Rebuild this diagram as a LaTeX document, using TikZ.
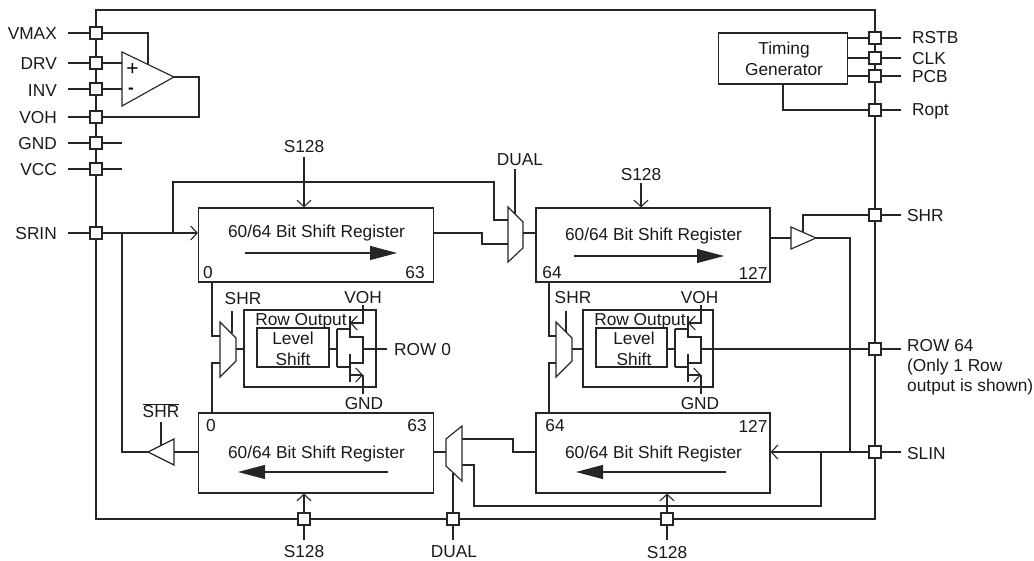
\documentclass[tikz,border=0pt]{standalone}
\usepackage{fontspec}
\setmainfont{Liberation Sans}
\usetikzlibrary{arrows.meta,calc}
\pgfdeclarelayer{wires}
\pgfsetlayers{wires,main}
\tikzset{
  x=1pt,y=-1pt,
  lw/.style={line width=1.15pt,draw=black!85},
  wire/.style={lw,line join=miter},
  barb/.style={-{Straight Barb[length=6.5pt,width=14pt,line width=1.1pt]}},
  bigarrow/.style={-{Triangle[length=27pt,width=14pt]}},
  pad/.style={lw,fill=white,rectangle,minimum size=12pt,inner sep=0pt},
  box/.style={lw,rectangle,inner sep=0pt,fill=none},
  lbl/.style={font=\fontsize{17.3}{19}\selectfont,inner sep=0pt,text=black!90,yshift=-1pt},
  lblL/.style={lbl,anchor=west},
  lblR/.style={lbl,anchor=east},
  gate/.style={lw,fill=white,line join=miter},
}
% #1 name prefix, #2 x offset
\newcommand{\rowfets}[2]{
  \coordinate (#1g1) at (337+#2,329);
  \coordinate (#1g2) at (337+#2,367);
  \coordinate (#1gm) at (337+#2,349);
  \coordinate (#1d1) at (363+#2,337);
  \coordinate (#1d2) at (363+#2,363);
  \coordinate (#1out) at (363+#2,349);
  \coordinate (#1vt) at (363+#2,305);
  \coordinate (#1vb) at (363+#2,323);
  \coordinate (#1ct) at (350+#2,316);
  \coordinate (#1cm) at (350+#2,337);
  \coordinate (#1cn) at (350+#2,363);
  \coordinate (#1cb) at (350+#2,382);
  \coordinate (#1gt) at (363+#2,394);
  \coordinate (#1gb) at (363+#2,375);
  \draw[wire] (#1g1) -- (#1g2);
  \draw[wire] (#1g1) -- (#1g1 -| #1ct);
  \draw[wire] (#1g2) -- (#1g2 -| #1ct);
  \draw[wire] (#1ct) -- (#1cm) -- (#1d1) -- (#1d2) -- (#1cn);
  \draw[wire] (#1cn |- 0,354) -- (#1cb);
  \draw[wire,barb] (#1vt) -- (#1vb) -- (#1vb -| #1ct);
  \draw[wire] (#1gt) -- (#1gb);
  \draw[wire,barb] (#1gb -| #1ct) -- (#1gb);
}
\begin{document}
\begin{tikzpicture}
\useasboundingbox (0,0) rectangle (1034,561);

% ---- pads
\foreach \n/\x/\y in {vmax/96/33,drv/96/63,inv/96/89,voh/96/117,gnd/96/143,vcc/96/169,srin/96/233,
  rstb/875/38,clk/875/58,pcb/875/76,ropt/875/110,shr/875/215,row/875/349,slin/875/452,
  sa/304/519,dual/453/519,sb/667/519}
  \node[pad] (p\n) at (\x,\y) {};

% ---- corners of the outer frame
\coordinate (fTL) at (96,10);
\coordinate (fTR) at (875,10);
\coordinate (fBL) at (96,519);
\coordinate (fBR) at (875,519);

% ---- blocks
\node[box,minimum width=129pt,minimum height=51pt] (tg) at (783,58.5) {};
\node[lbl,align=center] (tgt) at (784,60) {\strut Timing\\[2pt]\strut Generator};
\node[box,minimum width=235pt,minimum height=74pt] (rTL) at (316,245) {};
\node[box,minimum width=234pt,minimum height=74pt] (rTR) at (653,245) {};
\node[box,minimum width=235pt,minimum height=80pt] (rBL) at (316,453) {};
\node[box,minimum width=234pt,minimum height=80pt] (rBR) at (653,453) {};
\node[box,minimum width=132pt,minimum height=77pt] (roA) at (310,348.5) {};
\node[box,minimum width=130pt,minimum height=77pt] (roB) at (648,348.5) {};
\node[box,minimum width=72pt,minimum height=39pt] (lsA) at (293,347.5) {};
\node[box,minimum width=71pt,minimum height=39pt] (lsB) at (631.5,347.5) {};

% ---- gate geometry
\draw[gate] (122,52) coordinate (oa1) -- (122,106) coordinate (oa2) -- (174,77) coordinate (oaO) -- cycle;
\draw[gate] (791,227) -- (791,249) -- (816,238) coordinate (bufRo) -- cycle;
\draw[gate] (174,439) -- (174,465) -- (148,452) coordinate (bufLo) -- cycle;
\draw[gate] (508,207) -- (523,222) -- (523,248) -- (508,262) -- cycle;
\draw[gate] (220,322) -- (236,338) -- (236,361) -- (220,377) -- cycle;
\draw[gate] (556,322) -- (572,338) -- (572,361) -- (556,377) -- cycle;
\draw[gate] (462,426) -- (446,439) -- (446,466) -- (462,481) -- cycle;

\node[font=\fontsize{21}{21}\selectfont,inner sep=0pt] (plus) at (132.5,69.5) {+};
\node[font=\fontsize{17}{17}\selectfont\bfseries,inner sep=0pt] (minus) at (131,90.5) {-};

% ---- register texts
\foreach \n/\x/\y in {tA/316.5/232,tB/653.5/235,tC/316.5/453,tD/653.5/453}
  \node[lbl] (\n) at (\x,\y) {60/64 Bit Shift Register};
\foreach \n/\x/\y/\t in {iA/208/272/0,iB/415/272/63,iC/552/272/64,iD/753/272/127,
  iE/211/425/0,iF/417/425/63,iG/555/425/64,iH/753/425/127}
  \node[lbl] (\n) at (\x,\y) {\t};

% ---- big arrows in registers
\coordinate (aA0) at (245,253); \coordinate (aA1) at (397,253);
\coordinate (aB0) at (574,256); \coordinate (aB1) at (724,256);
\coordinate (aC0) at (388,472); \coordinate (aC1) at (238,472);
\coordinate (aD0) at (726,472); \coordinate (aD1) at (576,472);
\draw[wire,bigarrow] (aA0) -- (aA1);
\draw[wire,bigarrow] (aB0) -- (aB1);
\draw[wire,bigarrow] (aC0) -- (aC1);
\draw[wire,bigarrow] (aD0) -- (aD1);

% ---- row output fets
\rowfets{fa}{0}
\rowfets{fb}{338}

% ---- other labels
\foreach \n/\x/\y/\t in {lVMAX/57/33/VMAX,lDRV/57/63/DRV,lINV/57/90/INV,lVOH/57/117/VOH,
  lGND/57/143/GND,lVCC/57/169/VCC,lSRIN/57/233/SRIN}
  \node[lblR] (\n) at (\x,\y) {\t};
\foreach \n/\x/\y/\t in {lRSTB/912/37/RSTB,lCLK/912/58/CLK,lPCB/912/76/PCB,lRopt/912/110/Ropt,
  lSHR/907/215/SHR,lROW/907/345/ROW 64,lR2/907/366/(Only 1 Row,lR3/907/386.5/output is shown),lSLIN/907/453/SLIN,lROW0/394/349/ROW 0}
  \node[lblL] (\n) at (\x,\y) {\t};
\foreach \n/\x/\y/\t in {lS1/304/146/S128,lS2/641/174/S128,lS3/304/551/S128,lS4/667/551.5/S128,
  lD1/520/159/DUAL,lD2/454/551/DUAL,
  lSa/243/298/SHR,lVa/363/297/VOH,lGa/364/403/GND,
  lSb/573/297/SHR,lVb/699.5/297/VOH,lGb/700/403/GND,
  lLa/293/337/Level,lSha/293/358/Shift,lLb/634/337/Level,lShb/634/358/Shift,
  lOa/301/320/Row Output,lOb/640/320/Row Output}
  \node[lbl] (\n) at (\x,\y) {\t};
\node[lbl] (lNS) at (161,410) {$\overline{\mbox{SHR}}$};

% ---- connectors (under the nodes)
\begin{pgfonlayer}{wires}
\draw[wire] (fTL) -- (fTR) -- (fBR) -- (fBL) -- cycle;
% stubs
\foreach \n/\e in {vmax,drv,inv,voh,gnd,vcc,srin}
  \draw[wire] (p\n.center) -- ++(-28,0);
\draw[wire] (pgnd.center) -- ++(26,0);
\draw[wire] (pvcc.center) -- ++(26,0);
\foreach \n in {rstb,clk,pcb,ropt,shr,row,slin}
  \draw[wire] (p\n.center) -- ++(26,0);
\foreach \n in {sa,dual,sb}
  \draw[wire] (p\n.center) -- ++(0,21);
% op amp
\draw[wire] (pvmax.center) -- (148,33) -- (148,64);
\draw[wire] (pdrv.center) -- (pdrv -| oa1);
\draw[wire] (pinv.center) -- (pinv -| oa1);
\draw[wire] (oaO) -- (199,77) -- (199,117) -- (pvoh.center);
% timing generator
\draw[wire] (prstb.center) -- (prstb -| tg.east);
\draw[wire] (pclk.center) -- (pclk -| tg.east);
\draw[wire] (ppcb.center) -- (ppcb -| tg.east);
\draw[wire] (tg.south) |- (propt.center);
% serial in
\draw[wire,barb] (psrin.center) -- (rTL.west |- psrin);
\draw[wire] (173,233) |- (494,182) |- (508,220);
\draw[wire] (rTL.east |- 0,233) -- (482,233) -- (482,244) -- (508,244);
\draw[wire] (523,233) -- (rTR.west |- 0,233);
\draw[wire] (515,169) -- (515,215);
% S128 arrows
\draw[wire,barb] (304,157) -- (rTL.north -| 304,0);
\draw[wire,barb] (641,183) -- (rTR.north -| 641,0);
\draw[wire,barb] (psa.center) -- (rBL.south -| psa);
\draw[wire,barb] (psb.center) -- (rBR.south -| psb);
% right buffer
\draw[wire] (rTR.east |- bufRo) -- (791,238);
\draw[wire] (bufRo) -- (850,238) -- (850,452);
\draw[wire] (803,233) |- (pshr.center);
% slin
\draw[wire,barb] (pslin.center) -- (rBR.east |- pslin);
\draw[wire] (821,452) -- (821,506) -- (474,506) -- (474,465) -- (462,465);
\draw[wire] (rBR.west |- pslin) -- (513,452) -- (513,439) -- (462,439);
\draw[wire] (446,452) -- (rBL.east |- 0,452);
\draw[wire] (pdual.center) -- (453,473);
% left buffer
\draw[wire] (rBL.west |- bufLo) -- (174,452);
\draw[wire] (bufLo) -- (122,452) -- (122,233);
\draw[wire] (161,422) -- (161,445);
% row muxes
\draw[wire] (rTL.south -| 212,0) -- (212,336) -- (220,336);
\draw[wire] (rBL.north -| 212,0) -- (212,363) -- (220,363);
\draw[wire] (232,311) -- (232,333);
\draw[wire] (236,349) -- (roA.west |- 0,349);
\draw[wire] (lsA.east |- 0,349) -- (fagm);
\draw[wire] (faout) -- (387,349);
\draw[wire] (rTR.south -| 549,0) -- (549,336) -- (556,336);
\draw[wire] (rBR.north -| 549,0) -- (549,363) -- (556,363);
\draw[wire] (566,311) -- (566,333);
\draw[wire] (572,349) -- (roB.west |- 0,349);
\draw[wire] (lsB.east |- 0,349) -- (fbgm);
\draw[wire] (fbout) -- (prow.center);
\end{pgfonlayer}
\end{tikzpicture}
\end{document}
